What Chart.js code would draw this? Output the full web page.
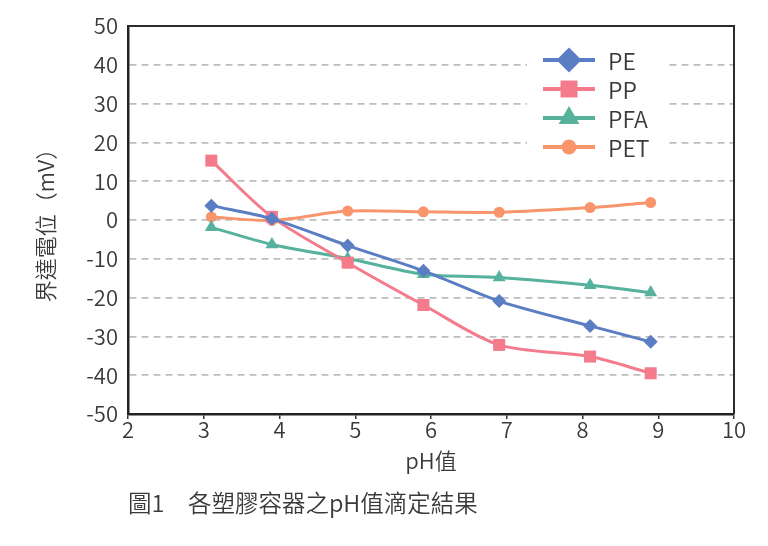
<!DOCTYPE html>
<html>
<head>
<meta charset="utf-8">
<script src="https://cdn.jsdelivr.net/npm/chart.js@4/dist/chart.umd.min.js"></script>
<style>
  html, body { margin: 0; padding: 0; background: #fff; }
  #wrap { position: relative; width: 768px; height: 546px; }
  #caption { position: absolute; left: 128px; top: 491px; font-family: "Noto Sans CJK TC", "Noto Sans", sans-serif; font-weight: 350; font-size: 23.5px; line-height: 1; color: #3a3a3a; white-space: pre; }
</style>
</head>
<body>
<div id="wrap">
  <canvas id="c" width="768" height="546"></canvas>
  <div id="caption">圖1　各塑膠容器之pH值滴定結果</div>
</div>
<script>
// ---- data ----
const phValues = [3.1, 3.9, 4.9, 5.9, 6.9, 8.1, 8.9];
const seriesNames = ['PE', 'PP', 'PFA', 'PET'];
const pe  = [3.7, 0.3, -6.6, -13.1, -20.9, -27.3, -31.4];
const pp  = [15.3, 0.8, -11.0, -21.9, -32.2, -35.2, -39.5];
const pfa = [-1.9, -6.3, -9.9, -14.0, -14.8, -16.8, -18.7];
const pet = [0.8, -0.1, 2.3, 2.1, 2.0, 3.2, 4.5];
const xTicks = [2, 3, 4, 5, 6, 7, 8, 9, 10];
const yTicks = [-50, -40, -30, -20, -10, 0, 10, 20, 30, 40, 50];

const FONT = '"Noto Sans CJK TC", "Noto Sans", sans-serif';
const TXT = '#3a3a3a';
const colors = ['#5b7dc3', '#f37b8c', '#56b19d', '#f8956b'];
const styles = ['rectRot', 'rect', 'triangle', 'circle'];
const plotRadius = [7, 8.5, 7.5, 5.5];
const legendRadius = [12.5, 12, 12, 7.5];
const values = [pe, pp, pfa, pet];

const datasets = seriesNames.map((name, i) => ({
  label: name,
  data: phValues.map((x, j) => ({ x: x, y: values[i][j] })),
  borderColor: colors[i],
  backgroundColor: colors[i],
  pointBackgroundColor: colors[i],
  pointBorderColor: colors[i],
  pointBorderWidth: 0,
  pointStyle: styles[i],
  pointRadius: plotRadius[i],
  borderWidth: 3,
  tension: 0.3,
  fill: false
}));

function drawMarker(ctx, style, r, x, y) {
  if (Chart.helpers && Chart.helpers.drawPoint) {
    Chart.helpers.drawPoint(ctx, { pointStyle: style, radius: r, rotation: 0, borderWidth: 0 }, x, y);
    return;
  }
  ctx.beginPath(); ctx.arc(x, y, r, 0, Math.PI * 2); ctx.fill();
}

const framePlugin = {
  id: 'frame',
  beforeDatasetsDraw(chart) {
    const { ctx, chartArea: a } = chart;
    ctx.save();
    ctx.strokeStyle = '#2b2b2b';
    ctx.lineWidth = 2;
    ctx.beginPath();
    ctx.moveTo(a.left, a.top);
    ctx.lineTo(a.right, a.top);
    ctx.lineTo(a.right, a.bottom);
    ctx.stroke();
    ctx.restore();
  }
};

const legendPlugin = {
  id: 'customLegend',
  afterDatasetsDraw(chart) {
    const { ctx, chartArea: a } = chart;
    ctx.save();
    ctx.fillStyle = '#ffffff';
    ctx.fillRect(a.right - 207, a.top + 17, 138, 124);
    chart.data.datasets.forEach((ds, i) => {
      const y = a.top + 34 + i * 29;
      const x0 = a.right - 191, x1 = a.right - 139, xm = a.right - 165;
      ctx.strokeStyle = ds.borderColor;
      ctx.fillStyle = ds.borderColor;
      ctx.lineWidth = 4;
      ctx.beginPath(); ctx.moveTo(x0, y); ctx.lineTo(x1, y); ctx.stroke();
      drawMarker(ctx, ds.pointStyle, legendRadius[i], xm, y);
      ctx.fillStyle = TXT;
      ctx.font = '350 23px ' + FONT;
      ctx.textAlign = 'left';
      ctx.textBaseline = 'middle';
      ctx.fillText(ds.label, a.right - 126, y + 1);
    });
    ctx.restore();
  }
};

new Chart(document.getElementById('c'), {
  type: 'line',
  data: { datasets: datasets },
  plugins: [framePlugin, legendPlugin],
  options: {
    responsive: false,
    animation: false,
    layout: { padding: { left: 0, right: 34, top: 26, bottom: 62 } },
    plugins: { legend: { display: false }, tooltip: { enabled: false } },
    scales: {
      x: {
        type: 'linear', min: xTicks[0], max: xTicks[xTicks.length - 1],
        afterBuildTicks(s) { s.ticks = xTicks.map(v => ({ value: v })); },
        ticks: { padding: -3, color: TXT, font: { family: FONT, size: 22, weight: 350 } },
        grid: { display: true, drawOnChartArea: false, drawTicks: true, tickLength: 5, color: '#333', lineWidth: 1.5 },
        border: { display: true, color: '#222', width: 2.5 },
        title: { display: true, text: 'pH值', color: TXT, font: { family: FONT, size: 22, weight: 350 }, padding: { top: 0, bottom: 10 } },
        afterFit(s) { s.height = 70; }
      },
      y: {
        type: 'linear', min: yTicks[0], max: yTicks[yTicks.length - 1],
        afterBuildTicks(s) { s.ticks = yTicks.map(v => ({ value: v })); },
        ticks: { padding: 10, color: TXT, font: { family: FONT, size: 22, weight: 350 } },
        grid: {
          drawTicks: false,
          lineWidth: 1.8,
          color: (c) => (c.tick && (c.tick.value === yTicks[0] || c.tick.value === yTicks[yTicks.length - 1])) ? 'rgba(0,0,0,0)' : '#bdbdbd'
        },
        border: { display: true, color: '#222', width: 2.5, dash: [7, 5] },
        title: { display: true, text: '界達電位（mV）', color: TXT, font: { family: FONT, size: 22, weight: 350 }, padding: { top: 32, bottom: 0 } },
        afterFit(s) { s.width = 128; }
      }
    }
  }
});
</script>
</body>
</html>
